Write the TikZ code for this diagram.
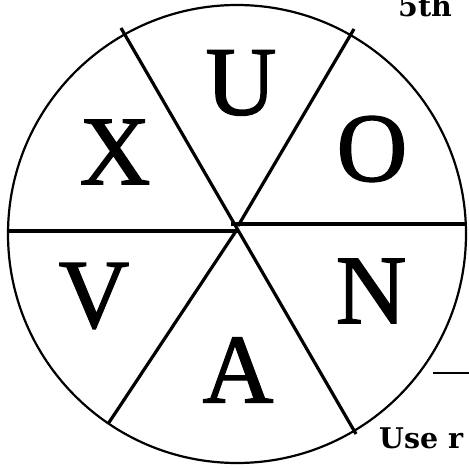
\documentclass[tikz,border=0pt]{standalone}
\usepackage{fontspec}
\setmainfont{Liberation Serif}
\newfontfamily\wheelfam[Scale=9.8,FakeBold=1.4]{Liberation Serif}
\newfontfamily\pagefam[Scale=2.85]{DejaVu Serif}
\usetikzlibrary{positioning}

\begin{document}
\begin{tikzpicture}[x=1pt,y=-1pt,
    rim/.style={line width=2.2pt},
    spoke/.style={line width=3.2pt},
    letter/.style={inner sep=0pt,font=\normalsize\wheelfam},
    pagetext/.style={anchor=base west,inner sep=0pt,font=\normalsize\pagefam\bfseries}]
  \useasboundingbox (0,0) rectangle (469,468);
  \clip (0,0) rectangle (469,468);
  % wheel
  \draw[rim] (237,234) circle[radius=229pt];
  \draw[spoke] (121,28) -- (356,434);
  \draw[spoke] (354,29) -- (238,226);
  \draw[spoke] (236,231) -- (108,424);
  \draw[spoke] (7,231) -- (238,231);
  \draw[spoke] (231,224) -- (465,224);
  % letters
  \node[letter] (U) at (241,83) {U};
  \node[letter] (O) at (372,149) {O};
  \node[letter] (X) at (115,152) {X};
  \node[letter] (V) at (94,296) {V};
  \node[letter] (N) at (371,291) {N};
  \node[letter] (A) at (238,370) {A};
  % cut-off page text
  \node[pagetext] (title) at (398,17) {5th};
  \node[pagetext] (hint) at (379,448) {Use r};
  \draw[rim] (433,373) -- (469,373);
\end{tikzpicture}
\end{document}
